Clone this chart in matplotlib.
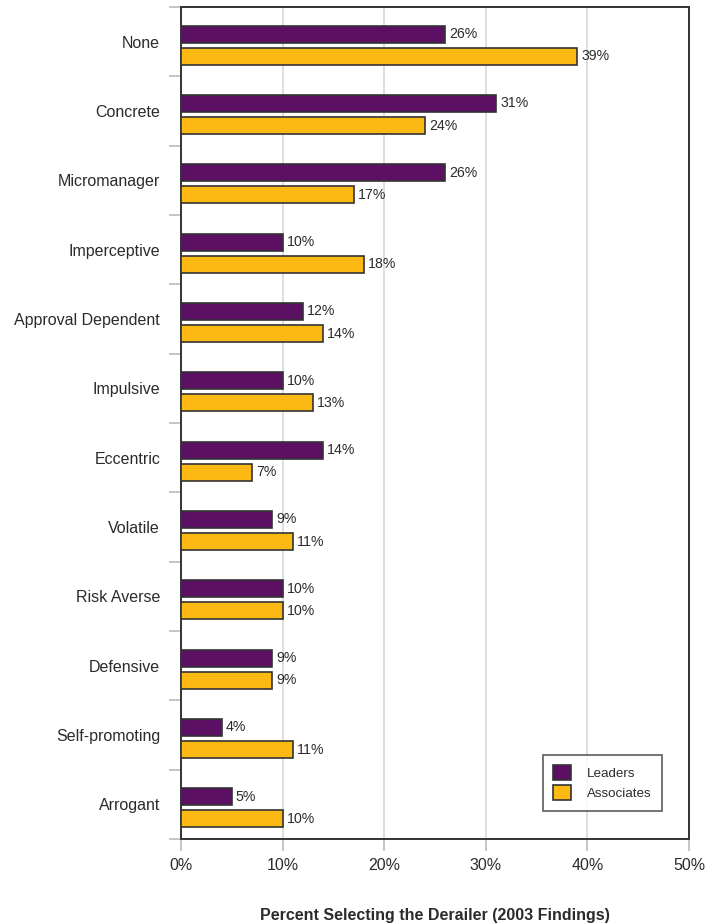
import matplotlib
matplotlib.use("Agg")
import matplotlib.pyplot as plt
import numpy as np

# Data
categories = ["None", "Concrete", "Micromanager", "Imperceptive", "Approval Dependent",
              "Impulsive", "Eccentric", "Volatile", "Risk Averse", "Defensive",
              "Self-promoting", "Arrogant"]
leaders = [26, 31, 26, 10, 12, 10, 14, 9, 10, 9, 4, 5]
associates = [39, 24, 17, 18, 14, 13, 7, 11, 10, 9, 11, 10]
x_ticks = [0, 10, 20, 30, 40, 50]
x_tick_labels = ["0%", "10%", "20%", "30%", "40%", "50%"]

plt.rcParams["font.family"] = ["Liberation Sans", "DejaVu Sans"]

purple = "#5C1063"
gold = "#FDB913"
edge = "#333333"
text_col = "#2b2b2b"

fig = plt.figure(figsize=(7.07, 9.24), dpi=100)
ax = fig.add_axes([181 / 707, 1 - 839 / 924, (689 - 181) / 707, (839 - 7) / 924])

n = len(categories)
y = np.arange(n)
h = 0.245
off_l = -0.11
off_a = 0.21

ax.barh(y + off_l, leaders, height=h, color=purple, edgecolor=edge, linewidth=1.2,
        label="Leaders", zorder=3)
ax.barh(y + off_a, associates, height=h, color=gold, edgecolor=edge, linewidth=1.2,
        label="Associates", zorder=3)

for yi, v in zip(y, leaders):
    ax.text(v + 0.4, yi + off_l, f"{v}%", va="center", ha="left", fontsize=10.2,
            color=text_col)
for yi, v in zip(y, associates):
    ax.text(v + 0.4, yi + off_a, f"{v}%", va="center", ha="left", fontsize=10.2,
            color=text_col)

ax.set_xlim(0, 50)
ax.set_ylim(n - 0.5, -0.5)

ax.set_xticks(x_ticks)
ax.set_xticklabels(x_tick_labels, fontsize=11.5, color=text_col)
ax.tick_params(axis="x", length=8.6, color="#bbbbbb", width=1.2, pad=5)

ax.set_yticks(y)
ax.set_yticklabels(categories, fontsize=11.5, color=text_col)
ax.tick_params(axis="y", which="major", length=0, pad=15)
ax.set_yticks(np.arange(-0.5, n, 1), minor=True)
ax.tick_params(axis="y", which="minor", length=8.6, color="#bbbbbb", width=1.2)

ax.grid(axis="x", color="#d9d9d9", linewidth=1.2, zorder=0)
ax.set_axisbelow(True)

for s in ax.spines.values():
    s.set_color(edge)
    s.set_linewidth(1.4)

ax.set_xlabel("Percent Selecting the Derailer (2003 Findings)", fontsize=11.5,
              fontweight="bold", color=text_col, labelpad=25)

leg = ax.legend(loc="lower right", bbox_to_anchor=(0.947, 0.034), fontsize=9.6,
                frameon=True, fancybox=False, edgecolor=edge, handlelength=1.3,
                handleheight=1.3, borderpad=0.8, labelspacing=0.4, handletextpad=1.2,
                borderaxespad=0)
leg.get_frame().set_linewidth(1.2)
for t in leg.get_texts():
    t.set_color(text_col)

fig.savefig("out.png", dpi=100)
